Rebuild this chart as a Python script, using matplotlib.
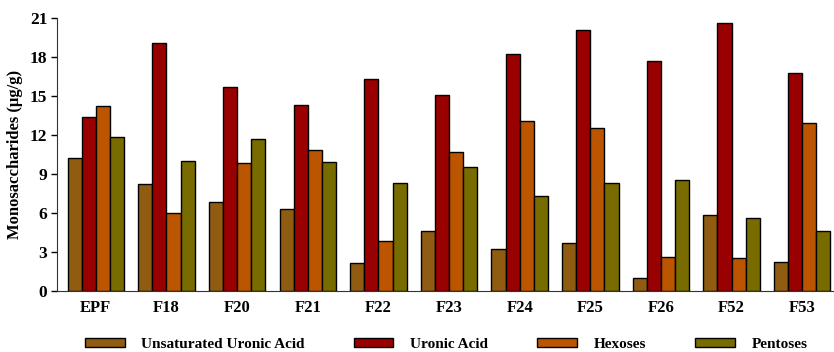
import numpy as np
import matplotlib
matplotlib.use("Agg")
from matplotlib import pyplot as plt

plt.rcParams['font.family'] = ['Liberation Serif', 'DejaVu Serif']
plt.rcParams['font.weight'] = 'bold'

# data
samples = ['EPF', 'F18', 'F20', 'F21', 'F22', 'F23', 'F24', 'F25', 'F26', 'F52', 'F53']
unsat_uronic = [10.2, 8.2, 6.8, 6.3, 2.1, 4.6, 3.2, 3.7, 1.0, 5.8, 2.2]
uronic = [13.4, 19.1, 15.7, 14.3, 16.3, 15.1, 18.2, 20.1, 17.7, 20.6, 16.8]
hexoses = [14.2, 6.0, 9.8, 10.8, 3.8, 10.7, 13.1, 12.5, 2.6, 2.5, 12.9]
pentoses = [11.8, 10.0, 11.7, 9.9, 8.3, 9.5, 7.3, 8.3, 8.5, 5.6, 4.6]

series = [
    ('Unsaturated Uronic Acid', unsat_uronic, '#8f5c12'),
    ('Uronic Acid', uronic, '#990000'),
    ('Hexoses', hexoses, '#bb5500'),
    ('Pentoses', pentoses, '#786c00'),
]

fig = plt.figure(figsize=(8.34, 3.52), dpi=100)
ax = fig.add_axes([57 / 834, 0.174, 1 - 57 / 834, 0.775])

x = np.arange(len(samples))
w = 0.2
for i, (name, vals, col) in enumerate(series):
    ax.bar(x + (i - 1.5) * w, vals, width=w, color=col, edgecolor='black',
           linewidth=1.0, label=name)

ax.set_xlim(-0.55, 10.45)
ax.set_ylim(0, 21)
ax.set_yticks(np.arange(0, 22, 3))
ax.set_xticks(x)
ax.set_xticklabels(samples, fontsize=12, fontweight='bold')
ax.tick_params(axis='x', length=0, pad=7)
ax.tick_params(axis='y', labelsize=12.5, length=4, width=1, pad=3)
ax.spines['top'].set_visible(False)
ax.spines['right'].set_visible(False)
ax.spines['left'].set_color('#333333')
ax.spines['bottom'].set_color('#333333')
ax.set_ylabel('Monosaccharides (µg/g)', fontsize=12, fontweight='bold', labelpad=5)

fig.legend(loc='lower center', bbox_to_anchor=(0.535, -0.035), ncol=4, frameon=False,
           fontsize=11, handlelength=2.6, handleheight=0.55, columnspacing=3.2,
           handletextpad=1.1)

fig.savefig('out.png', dpi=100)
